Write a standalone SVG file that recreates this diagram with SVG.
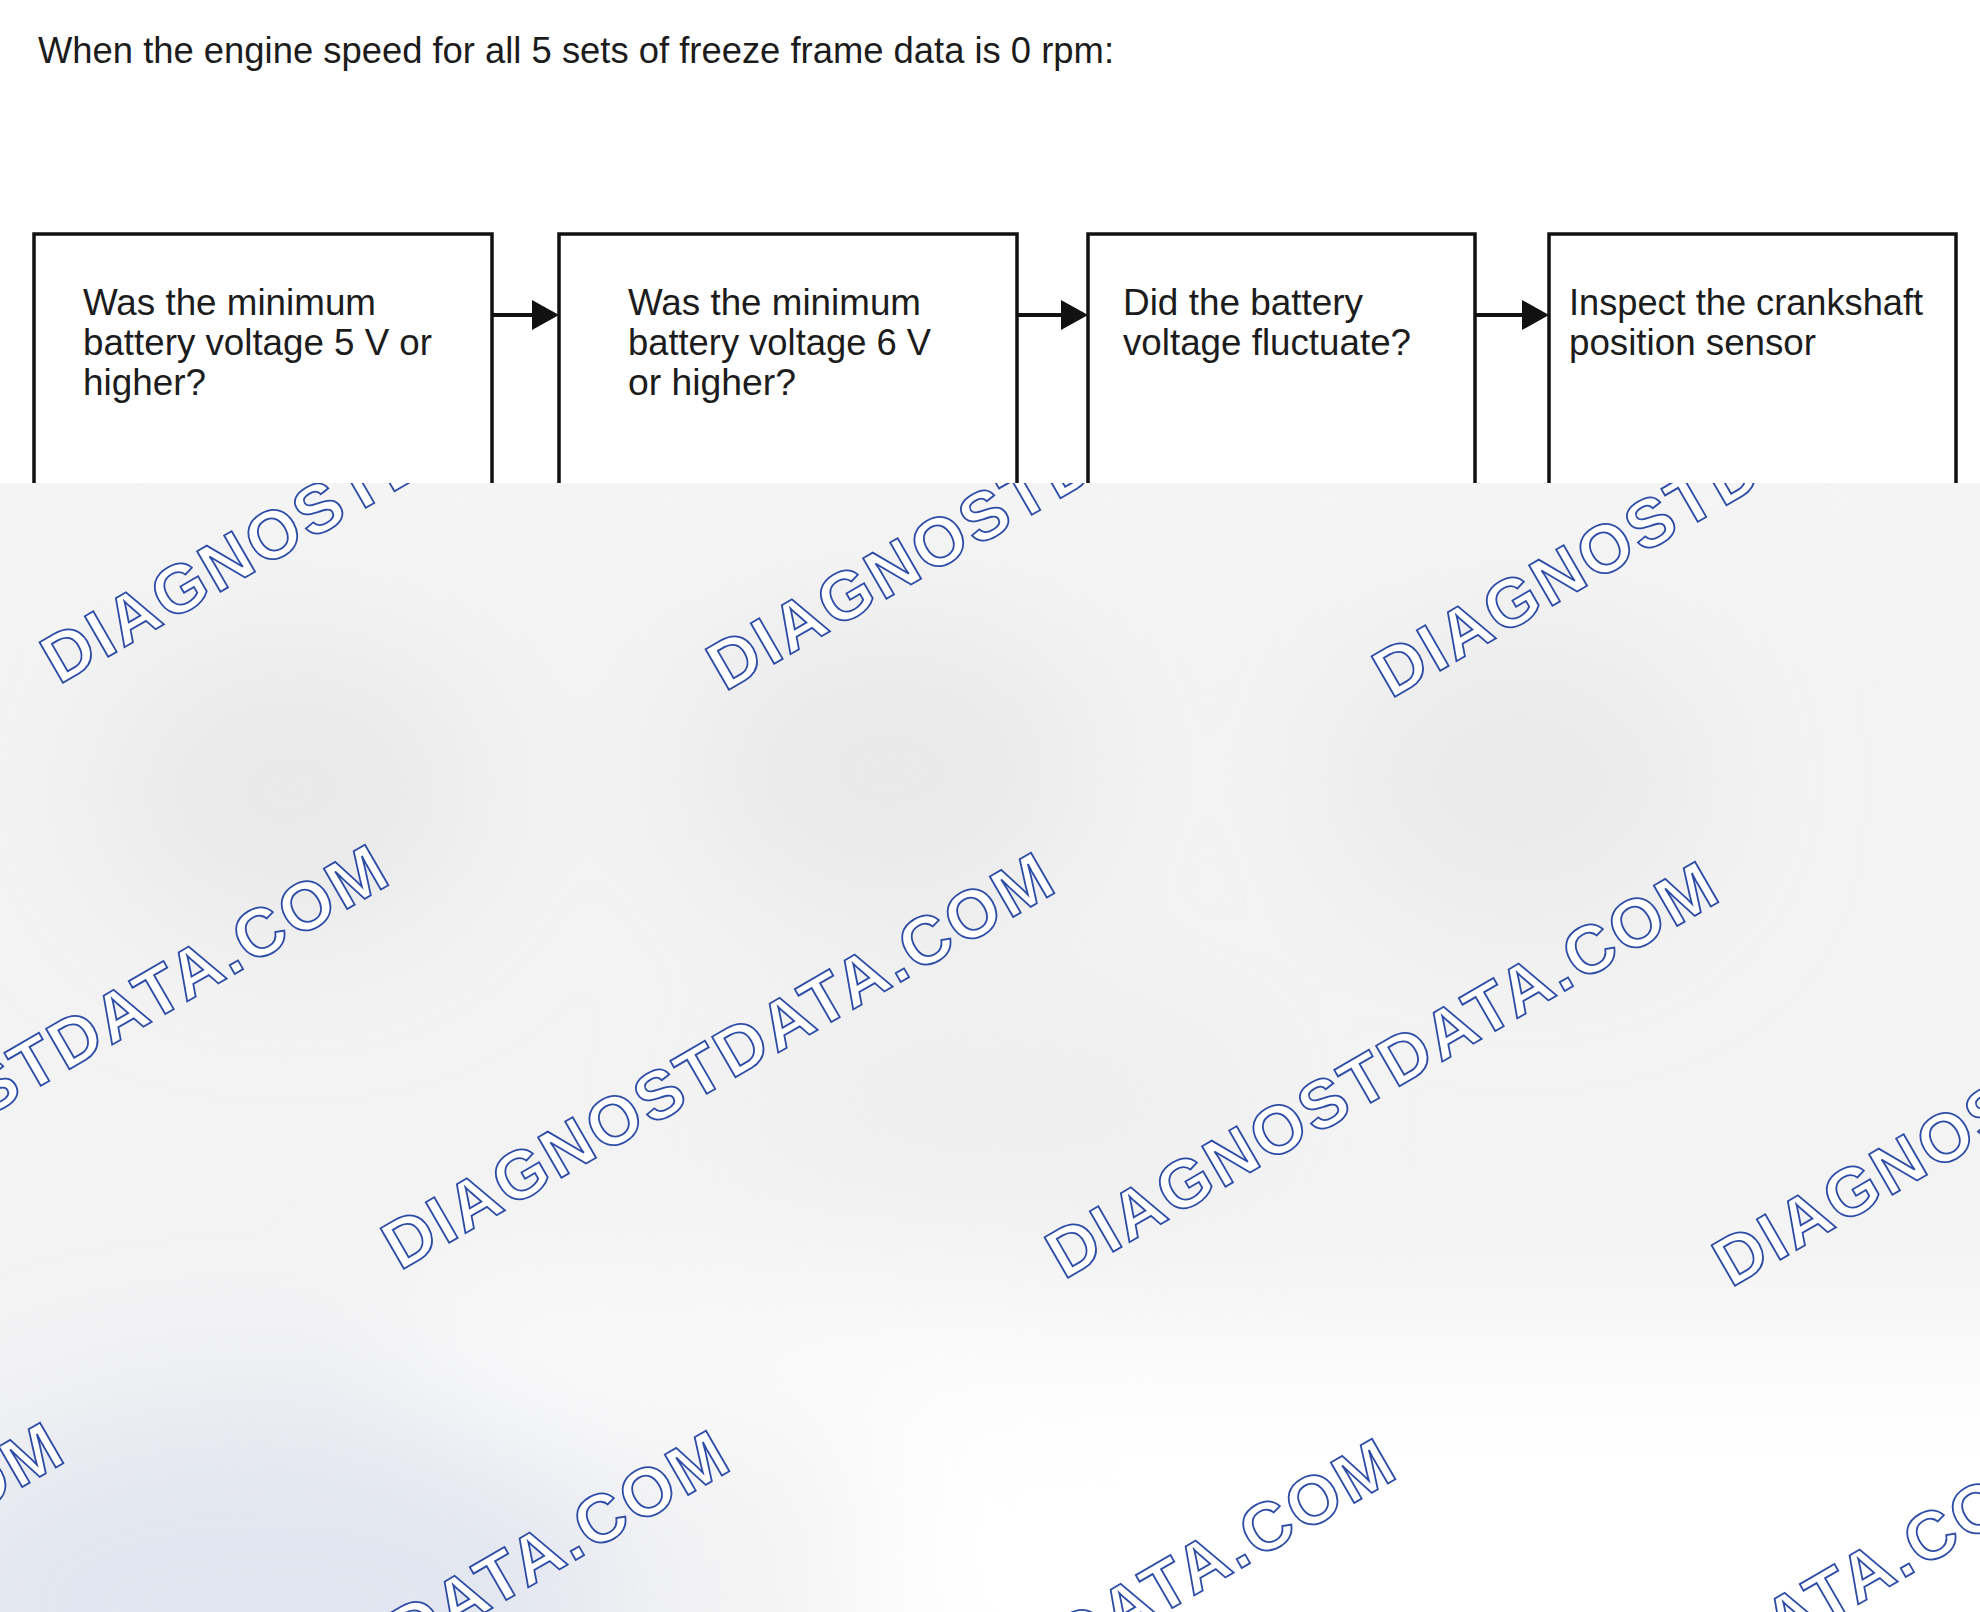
<svg xmlns="http://www.w3.org/2000/svg" width="1980" height="1612" viewBox="0 0 1980 1612">
  <style>
    .t { font-family: "Liberation Sans", Arial, sans-serif; font-size: 36px; fill: #1c1c1c; }
    .box { fill: #ffffff; stroke: #111111; stroke-width: 3.5; }
    .conn { stroke: #111111; stroke-width: 4; fill: none; }
    .head { fill: #111111; }
    .wm { font-family: "Liberation Sans", Arial, sans-serif; font-size: 68px; font-weight: bold; letter-spacing: 3px; fill: #ffffff; stroke: #2d4ca6; stroke-width: 1.8; }
  </style>
  <defs>
    <filter id="soft" x="-50%" y="-50%" width="200%" height="200%">
      <feGaussianBlur stdDeviation="70"/>
    </filter>
    <clipPath id="lower">
      <rect x="0" y="483" width="1980" height="1129"/>
    </clipPath>
  </defs>

  <rect x="0" y="0" width="1980" height="1612" fill="#ffffff"/>

  <text id="title" class="t" x="38" y="63" textLength="1076" lengthAdjust="spacingAndGlyphs">When the engine speed for all 5 sets of freeze frame data is 0 rpm:</text>

  <g id="node1">
    <rect class="box" x="34" y="234" width="458" height="320"/>
    <text class="t" x="83" y="315" textLength="293" lengthAdjust="spacingAndGlyphs">Was the minimum</text>
    <text class="t" x="83" y="355" textLength="349" lengthAdjust="spacingAndGlyphs">battery voltage 5 V or</text>
    <text class="t" x="83" y="395" textLength="123" lengthAdjust="spacingAndGlyphs">higher?</text>
  </g>
  <g id="node2">
    <rect class="box" x="559" y="234" width="458" height="320"/>
    <text class="t" x="628" y="315" textLength="293" lengthAdjust="spacingAndGlyphs">Was the minimum</text>
    <text class="t" x="628" y="355" textLength="303" lengthAdjust="spacingAndGlyphs">battery voltage 6 V</text>
    <text class="t" x="628" y="395" textLength="168" lengthAdjust="spacingAndGlyphs">or higher?</text>
  </g>
  <g id="node3">
    <rect class="box" x="1088" y="234" width="387" height="320"/>
    <text class="t" x="1123" y="315" textLength="240" lengthAdjust="spacingAndGlyphs">Did the battery</text>
    <text class="t" x="1123" y="355" textLength="288" lengthAdjust="spacingAndGlyphs">voltage fluctuate?</text>
  </g>
  <g id="node4">
    <rect class="box" x="1549" y="234" width="407" height="320"/>
    <text class="t" x="1569" y="315" textLength="354" lengthAdjust="spacingAndGlyphs">Inspect the crankshaft</text>
    <text class="t" x="1569" y="355" textLength="247" lengthAdjust="spacingAndGlyphs">position sensor</text>
  </g>

  <g id="connectors">
    <line class="conn" x1="492" y1="315" x2="534" y2="315"/>
    <polygon class="head" points="532,300 559,315 532,330"/>
    <line class="conn" x1="1017" y1="315" x2="1063" y2="315"/>
    <polygon class="head" points="1061,300 1088,315 1061,330"/>
    <line class="conn" x1="1475" y1="315" x2="1524" y2="315"/>
    <polygon class="head" points="1522,300 1549,315 1522,330"/>
  </g>

  <g id="overlay" clip-path="url(#lower)">
    <rect x="0" y="483" width="1980" height="1129" fill="#f3f3f4"/>
    <g filter="url(#soft)">
      <ellipse cx="290" cy="790" rx="190" ry="150" fill="#e9e9ea"/>
      <ellipse cx="890" cy="770" rx="200" ry="150" fill="#e9e9ea"/>
      <ellipse cx="1520" cy="780" rx="190" ry="150" fill="#eaeaeb"/>
      <ellipse cx="1000" cy="1100" rx="260" ry="90" fill="#eeeeef"/>
      <rect x="860" y="1340" width="1300" height="400" fill="#ffffff"/>
      <rect x="420" y="1300" width="600" height="120" fill="#fcfcfc"/>
      <ellipse cx="260" cy="1600" rx="360" ry="200" fill="#e2e6f0"/>
      <rect x="0" y="483" width="1980" height="30" fill="#fafafa"/>
    </g>
  </g>

  <g id="watermark" clip-path="url(#lower)">
    <text class="wm" transform="translate(59,685) rotate(-30)">DIAGNOSTDATA.COM</text>
    <text class="wm" transform="translate(725,692) rotate(-30)">DIAGNOSTDATA.COM</text>
    <text class="wm" transform="translate(1391,699) rotate(-30)">DIAGNOSTDATA.COM</text>
    <text class="wm" transform="translate(-266,1263) rotate(-30)">DIAGNOSTDATA.COM</text>
    <text class="wm" transform="translate(400,1271) rotate(-30)">DIAGNOSTDATA.COM</text>
    <text class="wm" transform="translate(1064,1280) rotate(-30)">DIAGNOSTDATA.COM</text>
    <text class="wm" transform="translate(1731,1288) rotate(-30)">DIAGNOSTDATA.COM</text>
    <text class="wm" transform="translate(-591,1841) rotate(-30)">DIAGNOSTDATA.COM</text>
    <text class="wm" transform="translate(75,1849) rotate(-30)">DIAGNOSTDATA.COM</text>
    <text class="wm" transform="translate(741,1857) rotate(-30)">DIAGNOSTDATA.COM</text>
    <text class="wm" transform="translate(1405,1866) rotate(-30)">DIAGNOSTDATA.COM</text>
  </g>
</svg>
